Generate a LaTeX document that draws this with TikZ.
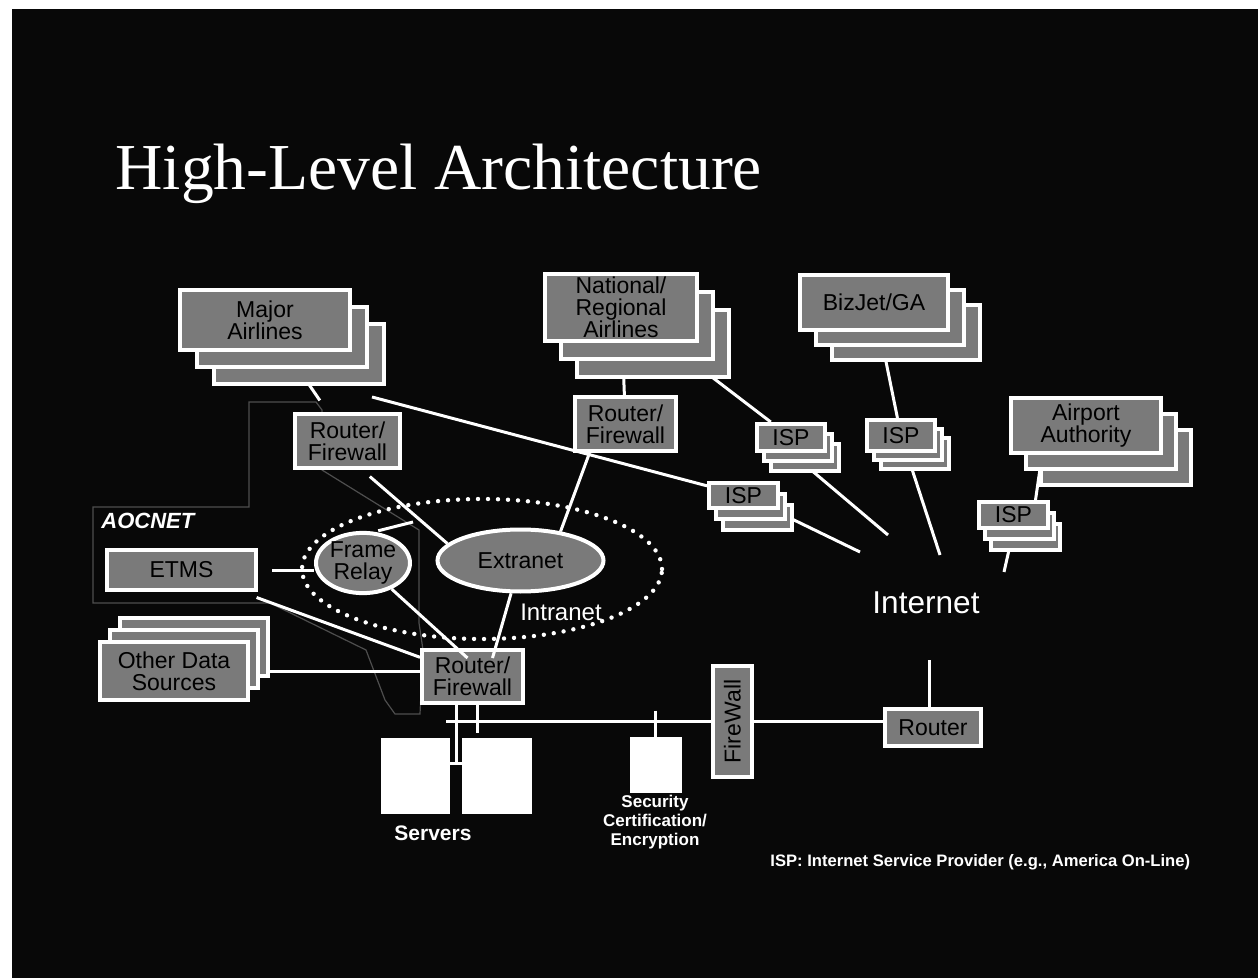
\documentclass[tikz,border=0pt]{standalone}
\usepackage{fontspec}
\setmainfont{Liberation Sans}
\newfontfamily\titlefont{Liberation Serif}
\usepackage{graphicx}
\usepackage{tikz}
\usetikzlibrary{shapes.geometric,shadows,backgrounds,calc}
\definecolor{slidebg}{RGB}{8,8,8}
\definecolor{boxgray}{RGB}{122,122,122}
\definecolor{aocline}{RGB}{78,78,78}
\newcommand{\boxfont}{\fontsize{11.5}{11}\selectfont}

\tikzset{
  netbox/.style={rectangle, fill=boxgray, draw=white, line width=2pt, font=\boxfont, text=black, align=center, inner sep=0.5pt},
  netoval/.style={ellipse, fill=boxgray, draw=white, line width=2pt, font=\boxfont, text=black, align=center, inner sep=0pt},
  stack/.style 2 args={
    general shadow={shadow scale=1, shadow xshift=2*#1, shadow yshift=2*#2, fill=boxgray, draw=white, line width=2pt},
    general shadow={shadow scale=1, shadow xshift=#1, shadow yshift=#2, fill=boxgray, draw=white, line width=2pt}},
  hostbox/.style={rectangle, fill=white, draw=white, inner sep=0pt},
  intranet/.style={ellipse, draw=white, line width=2.2pt, dash pattern=on 0pt off 5pt, line cap=round},
  link/.style={draw=white, line width=1.5pt},
  lbl/.style={text=white, inner sep=0pt, align=center}
}

\begin{document}
\begin{tikzpicture}[x=0.5pt, y=-0.5pt]
  \useasboundingbox (0,0) rectangle (1258,978);

  \node[anchor=base west, text=white, inner sep=0, font={\titlefont\fontsize{32.8}{36}\selectfont}] (title) at (115,190) {High-Level Architecture};

  % outside parties
  \node[netbox, stack={17}{17}, minimum width=85, minimum height=30] (ma) at (265,320) {Major\\Airlines};
  \node[netbox, stack={16}{18}, minimum width=76, minimum height=33.5] (nat) at (621,307.5) {National/\\Regional\\Airlines};
  \node[netbox, stack={16}{15}, minimum width=74, minimum height=27.5] (biz) at (874,302.5) {BizJet/GA};
  \node[netbox, stack={15}{16}, minimum width=75, minimum height=27.5] (air) at (1086,425.5) {Airport\\Authority};

  % routers and ISPs
  \node[netbox, minimum width=52.5, minimum height=27] (rfa) at (347.5,441) {Router/\\Firewall};
  \node[netbox, minimum width=50.5, minimum height=27] (rfb) at (625.5,424) {Router/\\Firewall};
  \node[netbox, stack={7}{10}, minimum width=34, minimum height=13.5] (isp1) at (791,437.5) {ISP};
  \node[netbox, stack={7}{9}, minimum width=34, minimum height=15.5] (isp2) at (901,435.5) {ISP};
  \node[netbox, stack={7}{11}, minimum width=34.5, minimum height=12.5] (isp3) at (743.5,495.5) {ISP};
  \node[netbox, stack={6}{11}, minimum width=34.5, minimum height=13] (isp4) at (1013.5,515) {ISP};

  % AOCNET side
  \node[intranet, minimum width=180, minimum height=70] (intra) at (482,569) {};
  \node[netbox, minimum width=74.5, minimum height=20] (etms) at (181.5,570) {ETMS};
  \node[netbox, stack={10}{-12}, minimum width=74, minimum height=29] (ods) at (174,671) {Other Data\\Sources};
  \node[netoval, minimum width=45, minimum height=28] (fr) at (363,563) {Frame\\Relay};
  \node[netoval, minimum width=83, minimum height=31] (ex) at (520.5,560.5) {Extranet};
  \node[netbox, minimum width=50.5, minimum height=26.5] (rfc) at (472.5,676.5) {Router/\\Firewall};
  \node[hostbox, minimum width=34, minimum height=37.5] (srv1) at (415,775.5) {};
  \node[hostbox, minimum width=34.5, minimum height=37.5] (srv2) at (496.5,775.5) {};
  \node[hostbox, minimum width=25.5, minimum height=27.5] (sec) at (655.5,764.5) {};
  \node[netbox, minimum width=19.5, minimum height=55.5] (fw) at (732.5,721.5) {\rotatebox{90}{FireWall}};
  \node[netbox, minimum width=48, minimum height=18.5] (rtr) at (933,727.5) {Router};

  % labels
  \node[lbl, anchor=west, font=\bfseries\itshape\fontsize{11}{12}\selectfont] (aoc) at (101,521) {AOCNET};
  \node[lbl, font=\fontsize{15.8}{17}\selectfont] (inet) at (926,603) {Internet};
  \node[lbl, font=\fontsize{12}{13}\selectfont] (intralbl) at (561,612) {Intranet};
  \node[lbl, font=\bfseries\fontsize{10.5}{12}\selectfont] (srvlbl) at (433,833) {Servers};
  \node[lbl, font=\bfseries\fontsize{8.5}{9.5}\selectfont] (seclbl) at (655,822) {Security\\Certification/\\Encryption};
  \node[lbl, anchor=west, font=\bfseries\fontsize{8.3}{9}\selectfont] (note) at (770,862) {ISP: Internet Service Provider (e.g., America On-Line)};

  % loose ends
  \coordinate (inA) at (860,552);
  \coordinate (inB) at (888,535);
  \coordinate (inC) at (940,555);
  \coordinate (inD) at (1004,572);
  \coordinate (inE) at (929,660);
  \coordinate (lanL) at (446,721);
  \coordinate (lanT) at (477,733);
  \coordinate (srvJ) at (456,763);
  \coordinate (frJ) at (413,522);

  \begin{scope}[on background layer]
    \fill[white] (0,0) rectangle (1258,978);
    \fill[slidebg] (12,9) rectangle (1258,978);
    \draw[aocline, line width=0.6pt] (93,507) -- (249,507) -- (249,402) -- (316,402) -- (322,410) -- (322,470)
      -- (419,530) -- (419,623) -- (423,650) -- (420,714) -- (395,714) -- (385,700) -- (366,650) -- (270,603)
      -- (93,603) -- cycle;
    \draw[link, shorten >=7pt] (ma) -- (rfa);
    \draw[link, shorten <=5pt] (rfa.-63) -- (ex.167);
    \draw[link] ([shift={(20,45)}]ma.south east) -- (isp3);
    \draw[link] (isp3) -- (inA);
    \draw[link] (nat) -- (rfb);
    \draw[link] ([xshift=-18]rfb.south) -- (ex.36);
    \draw[link] (nat) -- (isp1);
    \draw[link] (isp1.south) -- (inB);
    \draw[link] (biz) -- (isp2);
    \draw[link] (isp2) -- (inC);
    \draw[link] ([xshift=-22]air.south) -- ([xshift=11]isp4.north);
    \draw[link] (isp4.south) -- (inD);
    \draw[link] (inE) -- (inE |- rtr.north);
    \draw[link] (fw) -- (fw -| rtr.west);
    \draw[link] (lanL) -- (lanL -| fw.west);
    \draw[link] ([yshift=13]sec.north) -- (sec.north);
    \draw[link] (srvJ |- rfc.south) -- (srvJ);
    \draw[link] (srv1.east |- srvJ) -- (srv2.west |- srvJ);
    \draw[link] (lanT |- rfc.south) -- (lanT);
    \draw[link] (ods) -- (ods -| rfc.west);
    \draw[link, shorten <=8pt] (etms) -- (rfc);
    \draw[link, shorten <=7pt] (etms.east) -- (etms.east -| fr.west);
    \draw[link, shorten <=2pt] (fr.70) -- (frJ);
  \end{scope}

  % links that run onto the lower router
  \draw[link] (fr) -- ([shift={(-5,10)}]rfc.north);
  \draw[link] (ex) -- ([shift={(20,10)}]rfc.north);
\end{tikzpicture}
\end{document}
